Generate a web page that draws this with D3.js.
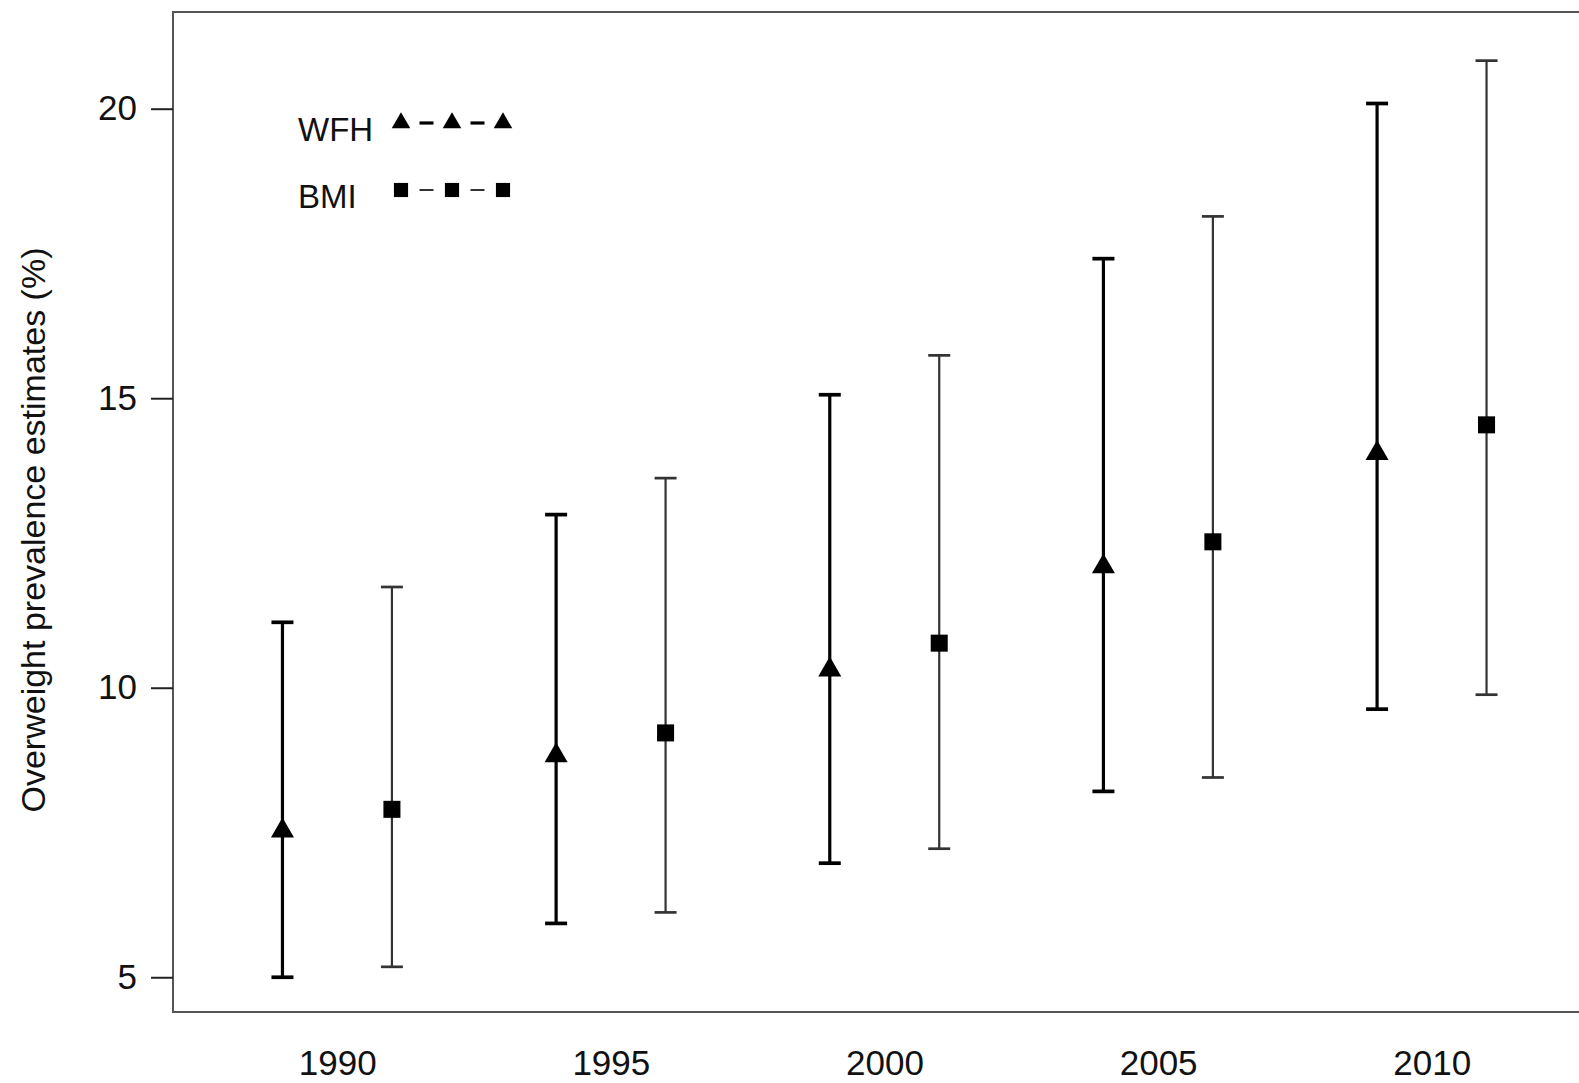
<!DOCTYPE html>
<html>
<head>
<meta charset="utf-8">
<script src="https://cdn.jsdelivr.net/npm/d3@7"></script>
<style>
  html, body { margin: 0; padding: 0; background: #fff; }
  svg { display: block; }
  text { font-family: "Liberation Sans", Arial, sans-serif; fill: #111; }
</style>
</head>
<body>
<svg id="chart" width="1579" height="1083"></svg>
<script>
// ---- data ----
const wfhYears = [1989, 1994, 1999, 2004, 2009];
const wfhEst   = [7.53, 8.83, 10.31, 12.09, 14.05];
const wfhLow   = [5.00, 5.93, 6.97, 8.21, 9.63];
const wfhHigh  = [11.13, 12.99, 15.06, 17.41, 20.09];

const bmiYears = [1991, 1996, 2001, 2006, 2011];
const bmiEst   = [7.90, 9.22, 10.77, 12.52, 14.54];
const bmiLow   = [5.18, 6.12, 7.22, 8.45, 9.88];
const bmiHigh  = [11.74, 13.62, 15.74, 18.14, 20.83];

const xTicks = [1990, 1995, 2000, 2005, 2010];
const yTicks = [5, 10, 15, 20];
const seriesNames = ["WFH", "BMI"];
const yLabel = "Overweight prevalence estimates (%)";

// ---- layout ----
const svg = d3.select("#chart");
const pLeft = 173, pTop = 12, pBottom = 1012, pRight = 1596;
const x = d3.scaleLinear().domain([1987, 2013]).range([pLeft, pRight]);
const y = d3.scaleLinear().domain([4.40, 21.67]).range([pBottom, pTop]);

// frame
svg.append("rect")
  .attr("x", pLeft).attr("y", pTop)
  .attr("width", pRight - pLeft).attr("height", pBottom - pTop)
  .attr("fill", "none").attr("stroke", "#555").attr("stroke-width", 2);

// y axis
const yAxis = d3.axisLeft(y).tickValues(yTicks).tickSize(22).tickPadding(14).tickFormat(d3.format("d"));
const gy = svg.append("g").attr("transform", `translate(${pLeft},0)`).call(yAxis);
gy.select(".domain").remove();
gy.selectAll(".tick line").attr("stroke", "#222").attr("stroke-width", 2);
gy.selectAll(".tick text").attr("font-size", 35).attr("fill", "#111")
  .attr("font-family", "'Liberation Sans', Arial, sans-serif");

// x axis (labels only)
const xAxis = d3.axisBottom(x).tickValues(xTicks).tickSize(0).tickPadding(38).tickFormat(d3.format("d"));
const gx = svg.append("g").attr("transform", `translate(0,${pBottom})`).call(xAxis);
gx.select(".domain").remove();
gx.selectAll(".tick text").attr("font-size", 35).attr("fill", "#111")
  .attr("font-family", "'Liberation Sans', Arial, sans-serif");

// y label
svg.append("text")
  .attr("transform", `translate(45,${(pTop + pBottom) / 2 + 18}) rotate(-90)`)
  .attr("text-anchor", "middle")
  .attr("font-size", 34)
  .text(yLabel);

// series
function drawSeries(years, est, low, high, opts) {
  const g = svg.append("g");
  years.forEach((yr, i) => {
    const cx = x(yr);
    g.append("line")
      .attr("x1", cx).attr("x2", cx)
      .attr("y1", y(low[i])).attr("y2", y(high[i]))
      .attr("stroke", opts.color).attr("stroke-width", opts.width);
    [low[i], high[i]].forEach(v => {
      g.append("line")
        .attr("x1", cx - opts.cap).attr("x2", cx + opts.cap)
        .attr("y1", y(v)).attr("y2", y(v))
        .attr("stroke", opts.color).attr("stroke-width", opts.width + 0.5);
    });
    g.append("path")
      .attr("transform", `translate(${cx},${y(est[i])})`)
      .attr("d", d3.symbol().type(opts.symbol).size(opts.size)())
      .attr("fill", "#000");
  });
}
drawSeries(wfhYears, wfhEst, wfhLow, wfhHigh,
  { color: "#000", width: 3.2, cap: 11, symbol: d3.symbolTriangle, size: 230 });
drawSeries(bmiYears, bmiEst, bmiLow, bmiHigh,
  { color: "#333", width: 2.2, cap: 11, symbol: d3.symbolSquare, size: 290 });

// legend
const legend = svg.append("g");
const legItems = [
  { name: seriesNames[0], ty: 141, my: 123, symbol: d3.symbolTriangle, size: 150, lw: 3.2 },
  { name: seriesNames[1], ty: 208, my: 190, symbol: d3.symbolSquare, size: 200, lw: 1.6 }
];
const legX = [401, 452, 503];
legItems.forEach(it => {
  legend.append("text").attr("x", 298).attr("y", it.ty).attr("font-size", 33).text(it.name);
  for (let k = 0; k < 2; k++) {
    const mid = (legX[k] + legX[k + 1]) / 2;
    legend.append("line")
      .attr("x1", mid - 7).attr("x2", mid + 7)
      .attr("y1", it.my).attr("y2", it.my)
      .attr("stroke", "#000").attr("stroke-width", it.lw);
  }
  legX.forEach(lx => {
    legend.append("path")
      .attr("transform", `translate(${lx},${it.my})`)
      .attr("d", d3.symbol().type(it.symbol).size(it.size)())
      .attr("fill", "#000");
  });
});
</script>
</body>
</html>
